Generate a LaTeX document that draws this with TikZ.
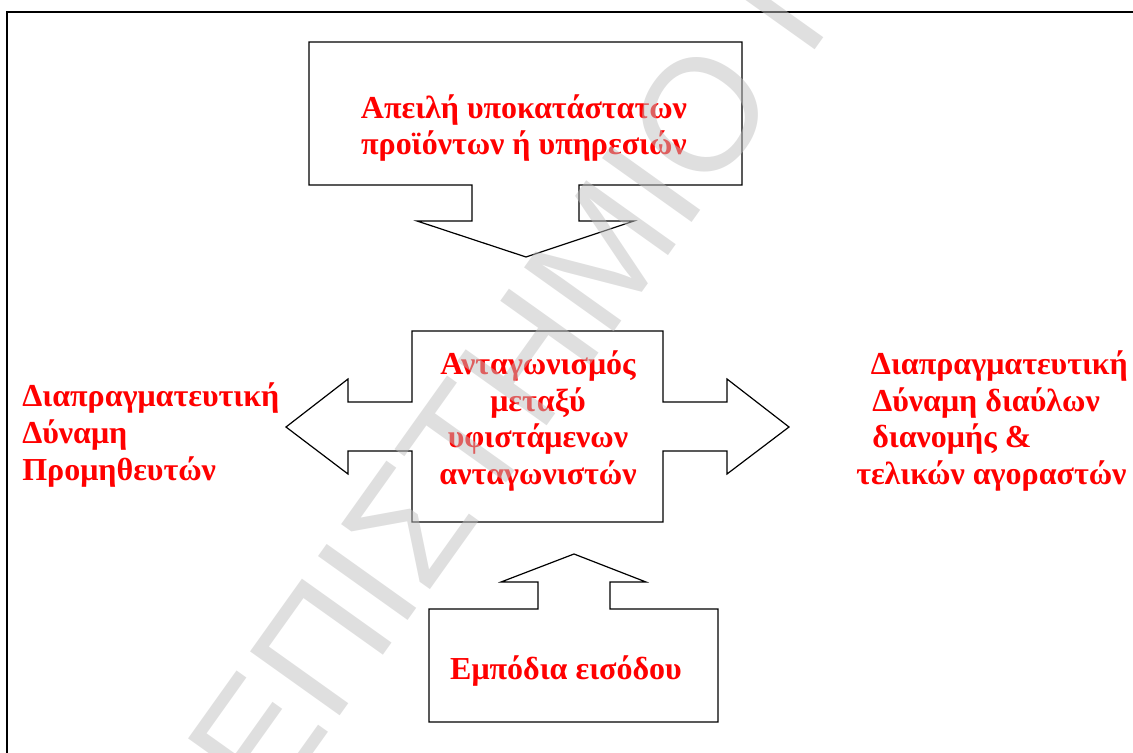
\documentclass[tikz,border=0pt]{standalone}
\usepackage{fontspec}
\setmainfont{Liberation Serif}
\newfontfamily\markfont{Liberation Sans}
\definecolor{label}{HTML}{FF0000}
\definecolor{stamp}{HTML}{BFBFBF}
\newcommand{\ForceSize}{\fontsize{24}{27.5}\selectfont}

\begin{document}
\begin{tikzpicture}[x=0.75pt, y=-0.75pt, line join=miter,
    boxline/.style={draw=black, line width=0.9pt},
    force/.style={text=label, font=\ForceSize\bfseries, inner sep=0pt},
    seal/.style={text=stamp, text opacity=0.5, font=\markfont\fontsize{120}{120}\selectfont, inner sep=0pt, rotate=54.5, anchor=base west},
  ]
% --- Page ------------------------------------------------------------------------
\useasboundingbox (0,0) rectangle (1133,753);
\draw[line width=1.6pt] (7,770) -- (7,12) -- (1145,12);

% --- Threat of substitutes (top) -------------------------------------------------
\draw[boxline] (309,42) -- (742,42) -- (742,185) -- (579,185) -- (579,221) -- (634,221)
  -- (526,257) -- (417,221) -- (472,221) -- (472,185) -- (309,185) -- cycle;
\node[force, align=center] (subst) at (524,128) {Απειλή υποκατάστατων\\προϊόντων ή υπηρεσιών};

% --- Rivalry (middle) -------------------------------------------------------------
\draw[boxline] (412,331) -- (663,331) -- (663,402) -- (727,402) -- (727,379) -- (789,427)
  -- (727,474) -- (727,451) -- (663,451) -- (663,522) -- (412,522) -- (412,451)
  -- (348,451) -- (348,474) -- (286,427) -- (348,379) -- (348,402) -- (412,402) -- cycle;
\node[force, align=center] (rivals) at (538,421) {Ανταγωνισμός\\μεταξύ\\υφιστάμενων\\ανταγωνιστών};

% --- Suppliers and buyers ----------------------------------------------------------
\node[force, align=left, anchor=west] (suppliers) at (22,435) {Διαπραγματευτική\\Δύναμη\\Προμηθευτών};
\node[force, align=left, anchor=west] (buyers) at (856,421)
  {\hspace*{11pt}Διαπραγματευτική\\\hspace*{12pt}Δύναμη διαύλων\\\hspace*{12pt}διανομής \&\\τελικών αγοραστών};

% --- Entry barriers (bottom) --------------------------------------------------------
\draw[boxline] (429,609) -- (538,609) -- (538,582) -- (501,582) -- (574,554) -- (646,582)
  -- (610,582) -- (610,609) -- (718,609) -- (718,722) -- (429,722) -- cycle;
\node[force, anchor=base] (entry) at (566,679) {Εμπόδια εισόδου};

% --- Watermark (on top) -------------------------------------------------------------
\node[seal] (mark) at (74,1089) {ΠΑΝΕΠΙΣΤΗΜΙΟ ΠΕΙΡΑΙΩΣ};
\end{tikzpicture}
\end{document}
